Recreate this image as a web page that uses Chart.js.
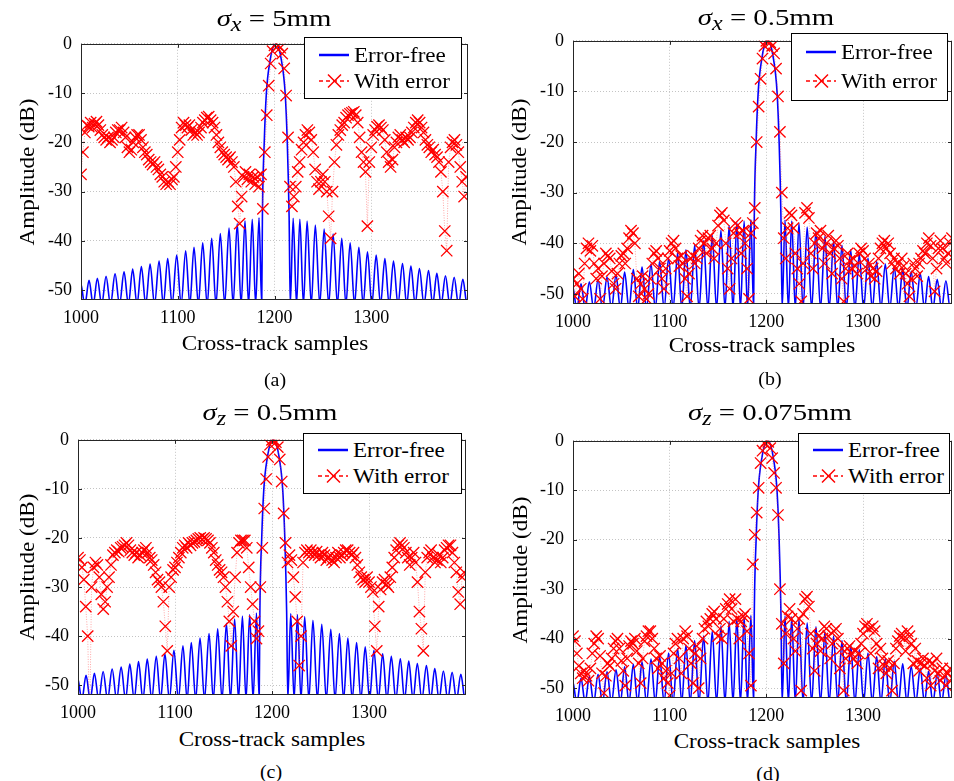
<!DOCTYPE html>
<html>
<head>
<meta charset="utf-8">
<script src="https://cdn.jsdelivr.net/npm/chart.js@4.4.1/dist/chart.umd.min.js"></script>
<style>
  body{margin:0;background:#fff;width:954px;height:781px;position:relative;overflow:hidden;
       font-family:'Liberation Serif','Times New Roman',serif;color:#000}
  canvas{position:absolute}
  .t{position:absolute;white-space:nowrap;line-height:1}
  .leg{position:absolute;background:#fff;border:1.5px solid #000;box-sizing:border-box}
  .leg span{position:absolute;white-space:nowrap;line-height:1;font-size:21px;transform-origin:0 50%}
  .leg svg{position:absolute;left:0;top:0}
</style>
</head>
<body>
<script>
// error-free response (same in every panel): nulls and lobe peaks, dB
var blueX = [995.5,999.5,1004,1008.3,1012.6,1016.9,1021.4,1025.9,1030.5,1035.2,1039.8,1044.5,1049,1053.4,1057.9,1062.4,
  1066.9,1071.4,1076,1080.7,1085.1,1089.6,1094.2,1098.9,1103.5,1108.2,1112.5,1116.8,1121.3,1125.8,1130.4,1135.1,
  1139.5,1144,1148.5,1153,1157.2,1161.5,1165.5,1169.5,1173.2,1177,1180.5,1184,1186.8,
  1187.5,1189.4,1191.6,1195.3,1198.3,1201.3,1204.3,1207.3,1211,1213.2,1215.1,1216.3,
  1219.3,1222.8,1226.2,1229.9,1233.7,1238,1242.2,1246.8,1251.3,1256,1260.6,1265,1269.5,1273.8,1278.2,1282.7,
  1287.2,1291.6,1296.1,1300.6,1305.1,1309.6,1314.1,1318.5,1323,1327.6,1332.3,1336.6,1341,1345.4,1349.8,1354.5,
  1359.2,1363.5,1367.8,1372.2,1376.7,1381.2,1385.7,1390.2,1394.7,1399.1,1403.5,1408];
var blueY = [-53,-48.5,-53,-48,-53,-47.6,-53,-47.2,-53,-46.7,-53,-46.3,-53,-45.7,-53,-45.2,
  -53,-44.7,-53,-44.1,-53,-43.6,-53,-42.9,-53,-42,-53,-41.3,-53,-40.4,-53,-39.5,
  -53,-38.5,-53,-37.4,-53,-36.5,-53,-35.9,-53,-35.6,-53,-35.3,-53,
  -35,-20,-10,-3.5,-0.8,0,-0.8,-3.5,-10,-20,-35,-53,
  -35.4,-53,-35.6,-53,-36,-53,-36.8,-53,-37.6,-53,-38.6,-53,-39.5,-53,-40.4,-53,
  -41.3,-53,-42.2,-53,-42.9,-53,-43.6,-53,-44.1,-53,-44.6,-53,-45.1,-53,-45.6,-53,
  -46,-53,-46.6,-53,-47.1,-53,-47.4,-53,-47.8,-53,-48.2,-53];

// with-error responses, one value every 2 samples from 1000
var redStart = 1000, redStep = 2;
var redA = [
  -26.5,-22,-18,-16.5,-16.8,-16,-17,-16.2,-15.8,-16.5,
  -17.5,-18.5,-19,-19.5,-19,-20,-19.5,-19,-18,-17.5,
  -17.5,-17,-18,-19,-21,-22,-21.5,-20,-19,-18.5,
  -18.5,-19.5,-21,-22,-22.5,-23.5,-24,-24.5,-24,-25,
  -25.5,-26.5,-27,-28,-28.5,-28,-28.5,-27.5,-27,-25,
  -22,-19.5,-17,-16,-16.5,-17,-16.5,-17.5,-18.5,-18,
  -18.5,-18,-17,-16,-15.5,-15,-14.8,-15.5,-16,-17,
  -18.5,-20,-21,-22,-22.5,-23,-23.5,-23,-24,-25,
  -28,-33,-36.5,-31,-27,-26,-27.5,-26.5,-28,-27,
  -28.5,-27,-29,-26.5,-33.5,-22,-14.5,-8.5,-4,-1.5,
  -0.3,0,-0.3,-0.8,-2,-5,-10.5,-19,-29,-33,
  -31,-29,-26,-24,-21.5,-20,-18.5,-17.5,-18,-19.5,
  -22,-25.5,-28,-29.5,-28,-26.5,-28,-30,-35,-39.5,
  -30,-24,-20.5,-18.5,-17.5,-16.5,-16,-15,-14.5,-14.2,
  -14,-13.8,-14.5,-16,-19,-22,-24,-26,-37,-24,
  -21,-18.5,-17.5,-16.8,-16.5,-17,-17.5,-19.5,-22,-24,
  -25,-23.5,-21,-20,-19,-18.5,-19.5,-20,-19,-19.5,
  -19,-18,-17,-16,-15.5,-16,-17,-18,-19.5,-20.5,
  -21,-22,-21.5,-22.5,-23,-24,-26,-30,-38,-42,
  -24,-21,-20,-19.5,-20.5,-22,-25,-28,-31,-27];
var redB = [
  -47,-50.5,-48,-46,-49,-51,-44,-41,-40,-41.5,
  -40.5,-44,-47,-45,-51,-46.5,-44,-42,-42.5,-43,
  -45.5,-48,-49,-46,-44,-42.5,-42,-44,-41,-39,
  -37.5,-38,-40,-47,-50.5,-48,-46.5,-49,-51,-50,
  -47,-44,-42,-41.5,-43,-45,-47,-49,-45,-43,
  -41.5,-40,-39.5,-41,-43,-44.5,-42.5,-44,-47,-50.5,
  -46,-43,-42.5,-44,-43,-41,-39.5,-38.5,-40,-42,
  -39,-38.5,-41,-43,-40,-36.5,-34.5,-34,-35.5,-40,
  -45,-49,-43,-38,-36,-36.5,-38,-42,-37.5,-40,
  -45,-51,-38,-36,-33,-20,-13,-7.5,-3.5,-1,
  0,0,-0.3,-1,-2.5,-5.5,-11,-18,-30,-39,
  -43,-37,-34,-34.5,-37,-42,-45,-48,-51.5,-44,
  -34,-33,-35,-42,-45,-40,-38,-39,-37.5,-41,
  -44,-40,-38.5,-42,-46,-41,-39.5,-40.5,-43,-47,
  -51.5,-45,-42,-43.5,-45,-43,-44.5,-46,-42,-41,
  -41.5,-43,-45,-44,-46.5,-45,-47,-45.5,-43,-41,
  -40,-39.5,-41,-40,-42,-44,-43,-45,-44,-46,
  -43,-44.5,-46,-48,-50.5,-47,-44,-45,-46.5,-44,
  -43,-41.5,-42,-40,-39,-40.5,-43,-49.5,-45,-41,
  -39.5,-41,-43,-44,-42,-40,-39,-41,-43,-44];
var redC = [
  -24,-24.5,-26,-28.5,-34,-40,-58,-30,-26,-25,
  -25.5,-28,-31.5,-34.5,-33,-30,-28,-25.5,-23.5,-23,
  -22.5,-22.8,-22,-21.8,-21.5,-21,-21.5,-22.5,-23,-23.5,
  -23,-24,-23.5,-23,-22.5,-22,-23,-24,-24.5,-25.5,
  -27,-28.5,-29,-30,-33,-38,-43,-30,-28,-26.5,
  -26,-25,-24,-23,-22,-21.5,-22,-21,-21.5,-21,
  -20.8,-20.5,-20.2,-20,-20.3,-20,-20.2,-20.5,-21,-22,
  -23,-24.5,-25.5,-26.5,-27,-28,-30,-33,-37,-42,
  -35,-28,-23,-21,-20.5,-20.5,-20.5,-22,-26,-30,
  -33.5,-37,-40.5,-39,-30,-22,-14,-8,-3.5,-1,
  0,0,-0.5,-1.5,-4,-8.5,-15,-21,-25,-23.5,
  -24.5,-28,-32,-37,-46,-40,-25,-23,-22.5,-23,
  -22.5,-23,-23.5,-22.8,-23.5,-24,-23,-23.5,-24.5,-24,
  -23.5,-24.5,-25,-24,-23,-24,-23.5,-23,-22.5,-22.5,
  -23,-23.5,-23,-24,-25.5,-27,-28,-28.5,-29,-28,
  -29,-30,-31,-38,-43,-34,-30.5,-29,-28.5,-29.5,
  -30,-28,-26,-24,-22.5,-21.5,-21,-21.5,-22,-23,
  -24,-25.5,-24,-23,-25,-29,-35,-38.5,-43,-27,
  -24,-23,-22.5,-24,-25,-24.5,-23.5,-25,-24,-22.5,
  -22,-21.5,-21.5,-23,-25,-27,-31,-33.5,-28,-27];
var redD = [
  -39.5,-40.5,-43,-45.5,-47,-48,-46.5,-47.5,-48.5,-46,
  -43,-41,-39.5,-40,-43.5,-47,-51,-47.5,-45,-45.5,
  -44,-42,-40.5,-40,-42,-44.5,-46.5,-49.5,-44,-41.5,
  -40.5,-41,-40,-42.5,-45,-49,-44,-40.5,-39.5,-38.5,
  -38.5,-40,-42,-44,-46,-43.5,-45,-48,-46.5,-49,
  -51.5,-47,-43,-41,-40,-44,-47,-40,-38.5,-39.5,
  -42,-45,-49,-43,-41.5,-50,-44,-40,-38,-36.5,
  -37.5,-36,-35,-34.5,-36,-39.5,-38,-40,-36,-34,
  -33,-32,-34,-36.5,-32,-36,-40,-36.5,-35.5,-35,
  -38.5,-43,-49.5,-25,-19,-14.5,-9.5,-4.5,-2,-0.5,
  0,-0.2,-1.5,-3.5,-6.5,-9.5,-15,-30,-37,-45,
  -39,-35.5,-34,-36,-40,-42.5,-38,-36,-50.5,-35,
  -32,-31.5,-33.5,-39,-42,-46.5,-41,-39.5,-42.5,-40,
  -37.5,-38,-39.5,-44,-41,-38.5,-38,-40,-46,-42,
  -50.5,-44,-42,-41.5,-43,-44,-42.5,-45,-43,-41,
  -39,-37.5,-37,-38,-43,-37.5,-38.5,-41,-46,-42,
  -44,-45.5,-47,-44.5,-46,-50.5,-45,-42,-40.5,-39.5,
  -39,-40,-42.5,-38.5,-39.5,-41,-45,-42,-44.5,-46.5,
  -45,-44,-45.5,-48,-44.5,-49.5,-45,-46.5,-44,-47,
  -48.5,-46,-47.5,-49.5,-47,-46,-48,-47,-49,-48];

var xTicks = [1000, 1100, 1200, 1300];
var yTicks = [0, -10, -20, -30, -40, -50];
var FONT = "'Liberation Serif','Times New Roman',serif";

// plot box and inward tick marks like the original axes
var frame = {
  id: 'frame',
  afterDraw: function(ch){
    var a = ch.chartArea, c = ch.ctx, sx = ch.scales.x, sy = ch.scales.y;
    c.save();
    c.strokeStyle = '#262626'; c.lineWidth = 1;
    c.beginPath();
    xTicks.forEach(function(v){
      var px = Math.round(sx.getPixelForValue(v)) + 0.5;
      c.moveTo(px, a.bottom); c.lineTo(px, a.bottom - 4);
      c.moveTo(px, a.top); c.lineTo(px, a.top + 4);
    });
    yTicks.forEach(function(v){
      var py = Math.round(sy.getPixelForValue(v)) + 0.5;
      c.moveTo(a.left, py); c.lineTo(a.left + 4, py);
      c.moveTo(a.right, py); c.lineTo(a.right - 4, py);
    });
    c.stroke();
    c.strokeRect(Math.round(a.left) + 0.5, Math.round(a.top) + 0.5,
                 Math.round(a.right - a.left) - 1, Math.round(a.bottom - a.top) - 1);
    c.restore();
  }
};

function panelConfig(red, xMax){
  var redPts = red.map(function(v, i){ return {x: redStart + redStep * i, y: v}; });
  var bluePts = blueX.map(function(x, i){ return {x: x, y: blueY[i]}; });
  return {
    type: 'line',
    data: {datasets: [
      {data: redPts, order: 0, borderColor: 'rgba(255,60,60,0.45)', borderWidth: 1, borderDash: [1, 1.5],
       pointStyle: 'crossRot', pointRadius: 8, pointBorderColor: '#ff0000', pointBorderWidth: 1.3,
       pointBackgroundColor: '#ff0000'},
      {data: bluePts, order: 1, borderColor: '#0000ff', borderWidth: 1.6, pointRadius: 0,
       cubicInterpolationMode: 'monotone'}
    ]},
    options: {
      responsive: false, maintainAspectRatio: false, animation: false, devicePixelRatio: 1, events: [],
      layout: {padding: {left: 0, top: 2, right: 2, bottom: 0}, autoPadding: false},
      plugins: {legend: {display: false}, tooltip: {enabled: false}},
      scales: {
        x: {type: 'linear', min: 1000, max: xMax,
            afterBuildTicks: function(s){ s.ticks = xTicks.map(function(v){ return {value: v}; }); },
            afterFit: function(s){ s.height = 28; },
            ticks: {font: {family: FONT, size: 18}, color: '#000', padding: 7, maxRotation: 0, autoSkip: false,
                    callback: function(v){ return String(v); }},
            grid: {color: '#c4c4c4', lineWidth: 1, drawTicks: false},
            border: {display: false, dash: [1, 2]}},
        y: {type: 'linear', min: -52, max: 0,
            afterBuildTicks: function(s){ s.ticks = yTicks.map(function(v){ return {value: v}; }); },
            afterFit: function(s){ s.width = 78; },
            ticks: {font: {family: FONT, size: 18}, color: '#000', padding: 9,
                    callback: function(v){ return String(v); }},
            grid: {color: '#c4c4c4', lineWidth: 1, drawTicks: false},
            border: {display: false, dash: [1, 2]}}
      }
    },
    plugins: [frame]
  };
}

function placeCanvas(L, T, W, H){
  var c = document.createElement('canvas');
  c.width = W; c.height = H;
  c.style.left = L + 'px'; c.style.top = T + 'px';
  document.body.appendChild(c);
  return c;
}

// area = wanted plot box [left, top, right, bottom] on the page
function makePanel(red, area, xMax){
  var L = area[0] - 78, T = area[1] - 2;
  var W = area[2] + 2 - L, H = area[3] + 28 - T;
  var c = placeCanvas(L, T, W, H);
  var ch = new Chart(c, panelConfig(red, xMax));
  var a = ch.chartArea;
  var dl = Math.round(L + a.left - area[0]), dt = Math.round(T + a.top - area[1]);
  var dr = Math.round(area[2] - (L + a.right)), db = Math.round(area[3] - (T + a.bottom));
  if (dl || dt || dr || db){
    ch.destroy(); c.remove();
    L -= dl; T -= dt; W += dl + dr; H += dt + db;
    c = placeCanvas(L, T, W, H);
    new Chart(c, panelConfig(red, xMax));
  }
}

function addText(html, x, y, size, sx, rot){
  var d = document.createElement('div');
  d.className = 't'; d.innerHTML = html;
  d.style.left = x + 'px'; d.style.top = y + 'px'; d.style.fontSize = size + 'px';
  d.style.transform = 'translate(-50%,-50%)' + (rot ? ' rotate(-90deg)' : '') + ' scaleX(' + sx + ')';
  document.body.appendChild(d);
}

function addLegend(l, t, w, h){
  var d = document.createElement('div');
  d.className = 'leg';
  d.style.left = l + 'px'; d.style.top = t + 'px'; d.style.width = w + 'px'; d.style.height = h + 'px';
  var y1 = Math.round(h * 0.27), y2 = Math.round(h * 0.69);
  d.innerHTML =
    '<svg width="' + w + '" height="' + h + '">' +
    '<line x1="14" y1="' + y1 + '" x2="44" y2="' + y1 + '" stroke="#0000ff" stroke-width="2.5"/>' +
    '<line x1="14" y1="' + y2 + '" x2="44" y2="' + y2 + '" stroke="#ff0000" stroke-width="1.5" stroke-dasharray="4 3"/>' +
    '<path d="M23 ' + (y2 - 6.5) + 'L36 ' + (y2 + 6.5) + 'M36 ' + (y2 - 6.5) + 'L23 ' + (y2 + 6.5) +
    '" stroke="#ff0000" stroke-width="1.5"/></svg>' +
    '<span style="left:49px;top:' + y1 + 'px;transform:translateY(-50%) scaleX(1.1)">Error-free</span>' +
    '<span style="left:49px;top:' + y2 + 'px;transform:translateY(-50%) scaleX(1.1)">With error</span>';
  document.body.appendChild(d);
}

makePanel(redA, [81, 44, 468, 300], 1400);
makePanel(redB, [573, 41, 952, 304], 1392);
makePanel(redC, [78, 440, 466, 695], 1400);
makePanel(redD, [573, 441, 952, 698], 1392);

addText('<i>σ</i><sub><i>x</i></sub> = 5mm', 274, 20, 24, 1.2);
addText('<i>σ</i><sub><i>x</i></sub> = 0.5mm', 766, 19, 24, 1.2);
addText('<i>σ</i><sub><i>z</i></sub> = 0.5mm', 270, 414, 24, 1.2);
addText('<i>σ</i><sub><i>z</i></sub> = 0.075mm', 770, 414, 24, 1.2);

addText('Amplitude (dB)', 27, 172, 21, 1.1, true);
addText('Amplitude (dB)', 519, 172, 21, 1.1, true);
addText('Amplitude (dB)', 27, 567, 21, 1.1, true);
addText('Amplitude (dB)', 520, 570, 21, 1.1, true);

addText('Cross-track samples', 275, 343, 21, 1.1);
addText('Cross-track samples', 762, 345, 21, 1.1);
addText('Cross-track samples', 272, 739, 21, 1.1);
addText('Cross-track samples', 767, 741, 21, 1.1);

addText('(a)', 275, 379, 19, 1.05);
addText('(b)', 770, 378, 19, 1.05);
addText('(c)', 271, 771, 19, 1.05);
addText('(d)', 768, 773, 19, 1.05);

addLegend(304, 37, 158, 62);
addLegend(791, 33, 157, 68);
addLegend(303, 433, 159, 61);
addLegend(798, 433, 152, 61);
</script>
</body>
</html>
